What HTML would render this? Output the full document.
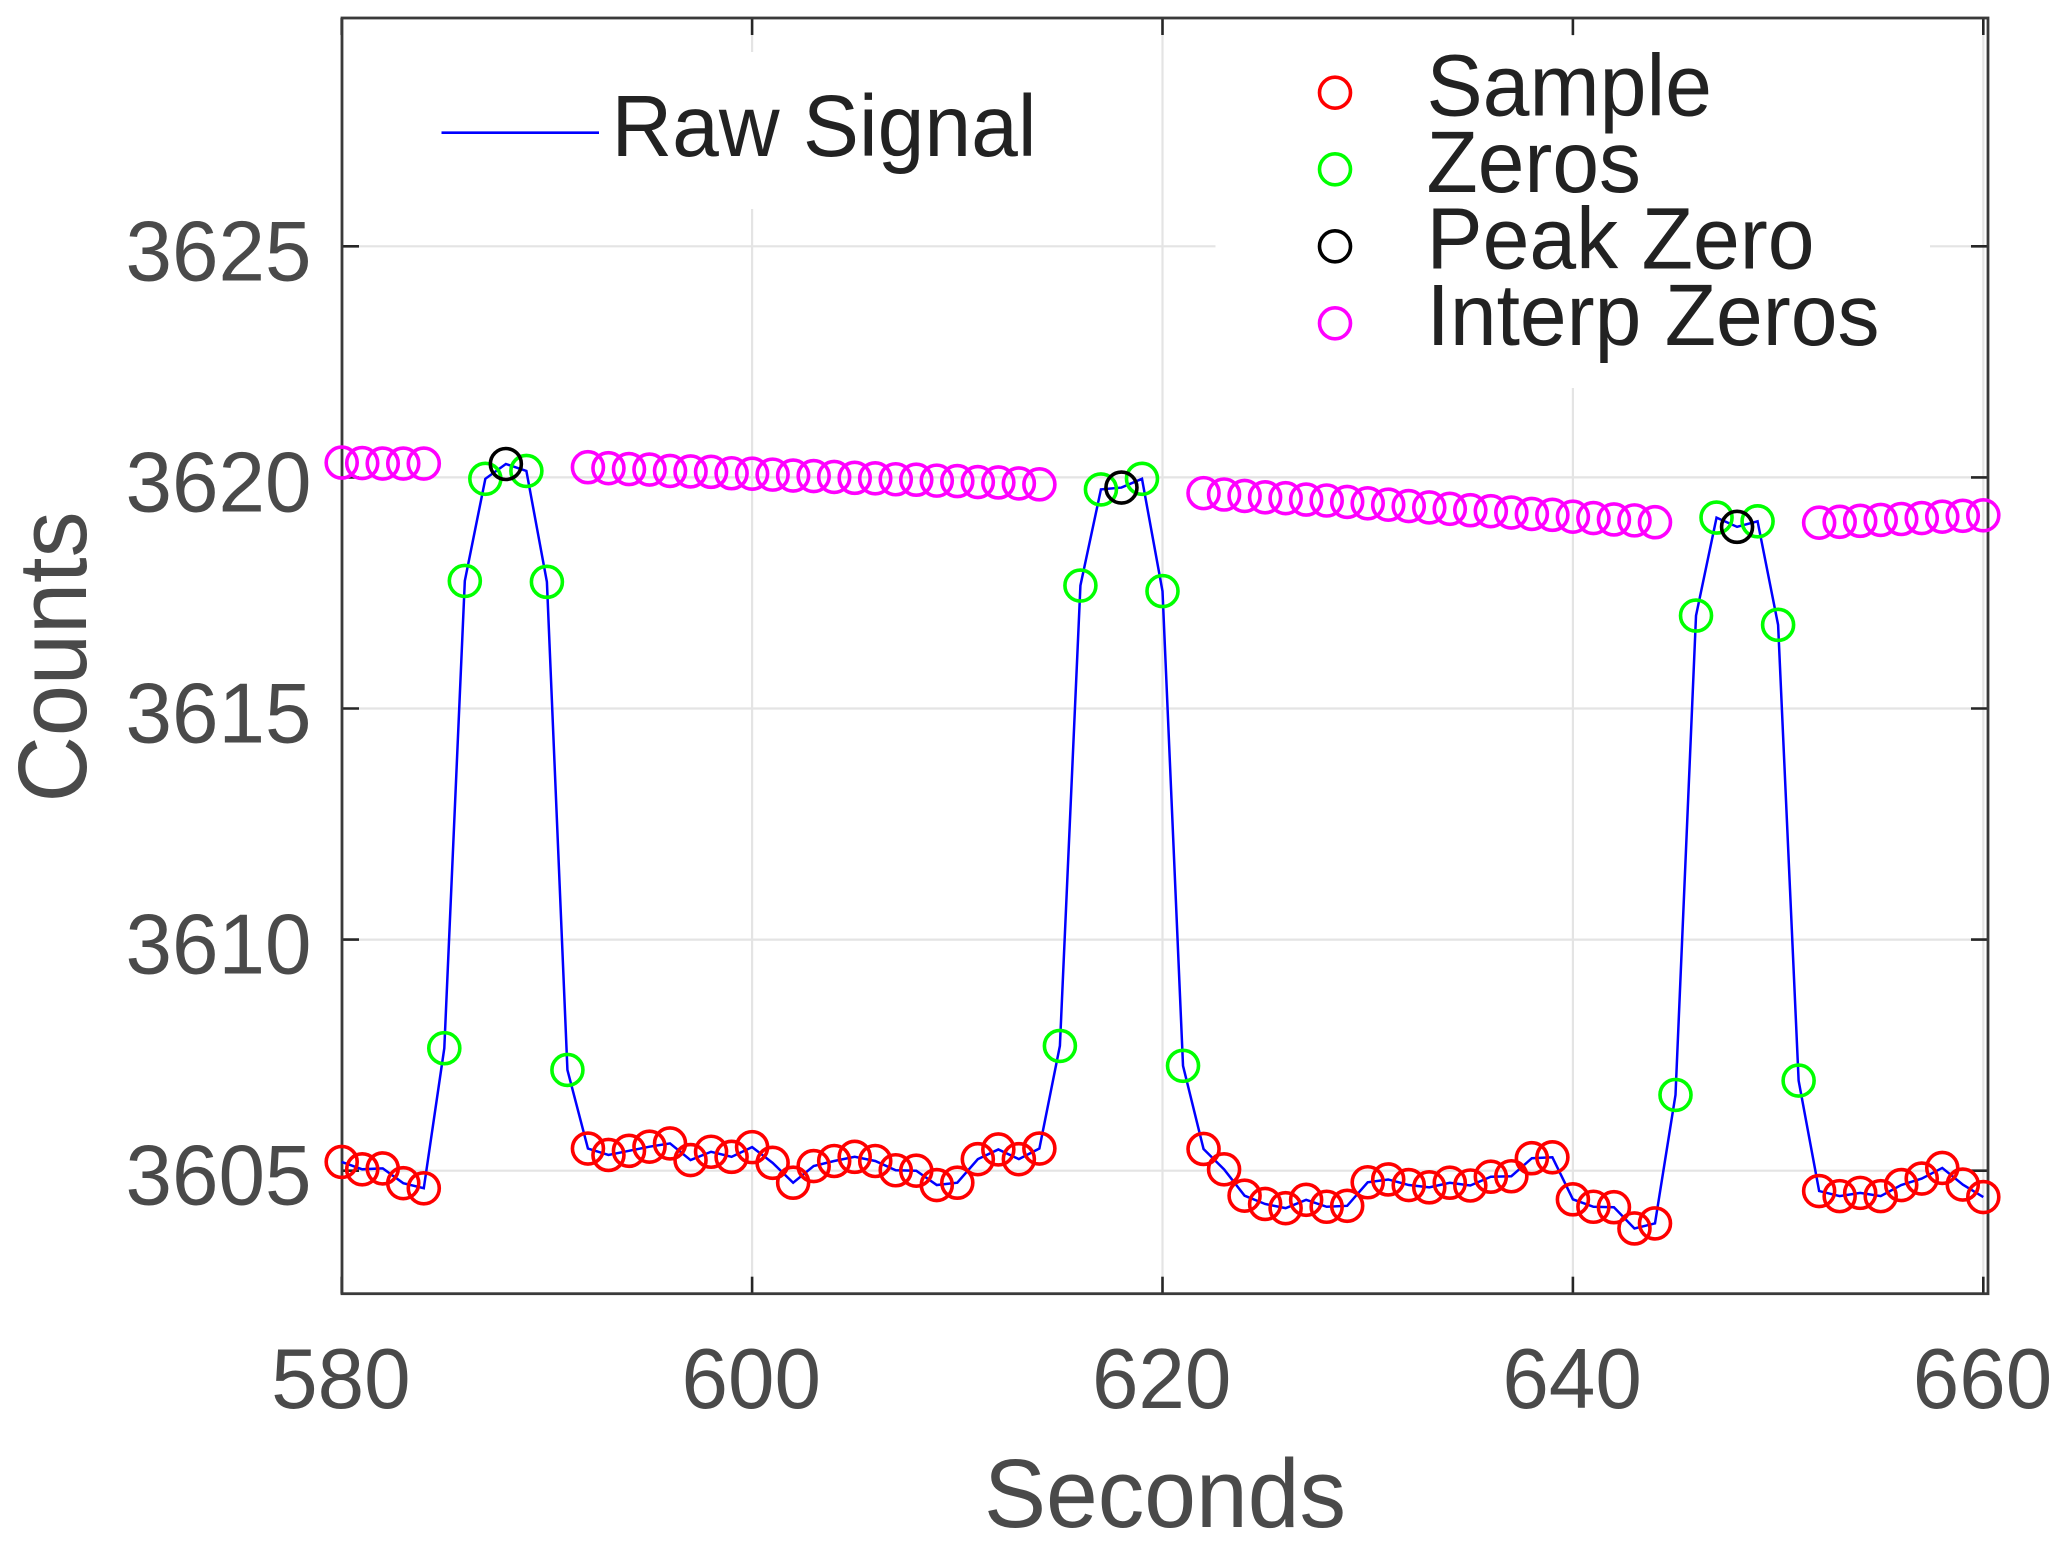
<!DOCTYPE html>
<html lang="en">
<head>
<meta charset="utf-8">
<title>Raw Signal Counts vs Seconds</title>
<style>
html,body{margin:0;padding:0;background:#fff;}
svg{display:block;font-family:"Liberation Sans",Arial,sans-serif;}
.tick-label{font-size:85px;fill:#4a4a4a;}
.axis-title{font-size:97px;fill:#4a4a4a;}
.legend-text{font-size:87px;fill:#222;}
</style>
</head>
<body>
<svg id="chart" xmlns="http://www.w3.org/2000/svg" width="2067" height="1546" viewBox="0 0 2067 1546">
  <rect x="0" y="0" width="2067" height="1546" fill="#fff"/>
  <g id="grid"></g>
  <rect x="420" y="52" width="650" height="157" fill="#fff"/>
  <rect x="1215.5" y="36" width="714.5" height="352" fill="#fff"/>
  <g id="ticks"></g>
  <rect x="342" y="18" width="1646" height="1275.7" fill="none" stroke="#3a3a3a" stroke-width="2.8"/>
  <g id="tick-labels"></g>
  <text class="axis-title" x="984" y="1527" textLength="362" lengthAdjust="spacingAndGlyphs">Seconds</text>
  <text class="axis-title" transform="translate(86,657) rotate(-90)" text-anchor="middle" textLength="291" lengthAdjust="spacingAndGlyphs">Counts</text>
  <g id="series"></g>
  <g>
    <line x1="441.5" y1="132.7" x2="599" y2="132.7" stroke="#0000ff" stroke-width="2.6"/>
    <text class="legend-text" x="611.5" y="156" textLength="425" lengthAdjust="spacingAndGlyphs">Raw Signal</text>
  </g>
  <g>
    <circle cx="1335" cy="92.7" r="15.5" fill="none" stroke="#ff0000" stroke-width="3.6"/>
    <text class="legend-text" x="1426.5" y="115.5" textLength="285.5" lengthAdjust="spacingAndGlyphs">Sample</text>
    <circle cx="1335" cy="169.3" r="15.5" fill="none" stroke="#00ff00" stroke-width="3.6"/>
    <text class="legend-text" x="1426.5" y="192" textLength="214.5" lengthAdjust="spacingAndGlyphs">Zeros</text>
    <circle cx="1335" cy="246.3" r="15.5" fill="none" stroke="#000000" stroke-width="3.6"/>
    <text class="legend-text" x="1426.5" y="268.5" textLength="388" lengthAdjust="spacingAndGlyphs">Peak Zero</text>
    <circle cx="1335" cy="323.3" r="15.5" fill="none" stroke="#ff00ff" stroke-width="3.6"/>
    <text class="legend-text" x="1426.5" y="345" textLength="453" lengthAdjust="spacingAndGlyphs">Interp Zeros</text>
  </g>
</svg>
<script>
const xTickValues = [580, 600, 620, 640, 660];
const yTickValues = [3605, 3610, 3615, 3620, 3625];

const rawSeconds = [
  580,581,582,583,584,585,586,587,588,589,
  590,591,592,593,594,595,596,597,598,599,
  600,601,602,603,604,605,606,607,608,609,
  610,611,612,613,614,615,616,617,618,619,
  620,621,622,623,624,625,626,627,628,629,
  630,631,632,633,634,635,636,637,638,639,
  640,641,642,643,644,645,646,647,648,649,
  650,651,652,653,654,655,656,657,658,659,660
];
const rawCounts = [
  3605.19,3605.03,3605.05,3604.73,3604.62,3607.65,3617.76,3619.97,3620.29,3620.14,
  3617.74,3607.18,3605.48,3605.34,3605.43,3605.52,3605.59,3605.23,3605.41,3605.30,
  3605.51,3605.17,3604.74,3605.10,3605.21,3605.30,3605.21,3605.01,3605.00,3604.69,
  3604.74,3605.25,3605.46,3605.25,3605.48,3607.70,3617.66,3619.74,3619.78,3619.97,
  3617.54,3607.27,3605.47,3605.03,3604.46,3604.28,3604.19,3604.37,3604.22,3604.24,
  3604.75,3604.81,3604.69,3604.64,3604.74,3604.68,3604.87,3604.88,3605.27,3605.29,
  3604.38,3604.22,3604.21,3603.75,3603.86,3606.64,3617.01,3619.13,3618.93,3619.05,
  3616.81,3606.95,3604.56,3604.45,3604.52,3604.45,3604.69,3604.83,3605.06,3604.70,3604.43
];

const sampleSeconds = [
  580,581,582,583,584,
  592,593,594,595,596,597,598,599,600,601,602,603,604,605,606,607,608,609,610,611,612,613,614,
  622,623,624,625,626,627,628,629,630,631,632,633,634,635,636,637,638,639,640,641,642,643,644,
  652,653,654,655,656,657,658,659,660
];
const zeroSeconds = [585,586,587,589,590,591,615,616,617,619,620,621,645,646,647,649,650,651];
const peakSeconds = [588,618,648];

const interpSeconds = [
  580,581,582,583,584,
  592,593,594,595,596,597,598,599,600,601,602,603,604,605,606,607,608,609,610,611,612,613,614,
  622,623,624,625,626,627,628,629,630,631,632,633,634,635,636,637,638,639,640,641,642,643,644,
  652,653,654,655,656,657,658,659,660
];
const interpCounts = [
  3620.32,3620.31,3620.30,3620.30,3620.30,
  3620.22,3620.20,3620.18,3620.17,3620.14,3620.13,3620.12,3620.09,3620.08,3620.06,3620.04,3620.03,
  3620.01,3619.99,3619.98,3619.96,3619.95,3619.93,3619.92,3619.90,3619.89,3619.87,3619.85,
  3619.66,3619.63,3619.60,3619.57,3619.55,3619.52,3619.50,3619.47,3619.44,3619.41,3619.38,3619.35,
  3619.32,3619.29,3619.27,3619.24,3619.21,3619.19,3619.15,3619.12,3619.09,3619.07,3619.03,
  3619.02,3619.04,3619.06,3619.08,3619.10,3619.12,3619.15,3619.17,3619.18
];

const SVG_NS = 'http://www.w3.org/2000/svg';
const FRAME = { left: 342, right: 1988, top: 18, bottom: 1293.7 };
const DIGIT_WIDTH = 46.5;

function xScale(v) { return 341.7 + (v - 580) * 20.52; }
function yScale(v) { return 1170.7 - (v - 3605) * 46.22; }
function rawAt(sec) { return rawCounts[rawSeconds.indexOf(sec)]; }

function make(tag, attrs, parent) {
  const el = document.createElementNS(SVG_NS, tag);
  Object.keys(attrs).forEach(function (k) { el.setAttribute(k, attrs[k]); });
  parent.appendChild(el);
  return el;
}

const gridGroup = document.getElementById('grid');
const tickGroup = document.getElementById('ticks');
const labelGroup = document.getElementById('tick-labels');
const seriesGroup = document.getElementById('series');

xTickValues.forEach(function (v) {
  const x = xScale(v);
  const g = make('line', { x1: x, x2: x, y1: FRAME.top, y2: FRAME.bottom, stroke: '#e4e4e4', 'stroke-width': 2.2 }, gridGroup);
  
  
  const t1 = make('line', { x1: x, x2: x, y1: FRAME.bottom, y2: FRAME.bottom - 17, stroke: '#262626', 'stroke-width': 2.6 }, tickGroup);
  
  
  const t2 = make('line', { x1: x, x2: x, y1: FRAME.top, y2: FRAME.top + 17, stroke: '#262626', 'stroke-width': 2.6 }, tickGroup);
  
  
  const text = String(v);
  const lab = make('text', { class: 'tick-label', x: x - 0.8, y: 1408, 'text-anchor': 'middle', textLength: text.length * DIGIT_WIDTH, lengthAdjust: 'spacingAndGlyphs' }, labelGroup);
  
  
  lab.textContent = text;
});

yTickValues.forEach(function (v) {
  const y = yScale(v);
  const g = make('line', { x1: FRAME.left, x2: FRAME.right, y1: y, y2: y, stroke: '#e4e4e4', 'stroke-width': 2.2 }, gridGroup);
  
  
  const t1 = make('line', { x1: FRAME.left, x2: FRAME.left + 17, y1: y, y2: y, stroke: '#262626', 'stroke-width': 2.6 }, tickGroup);
  
  
  const t2 = make('line', { x1: FRAME.right - 17, x2: FRAME.right, y1: y, y2: y, stroke: '#262626', 'stroke-width': 2.6 }, tickGroup);
  
  
  const text = String(v);
  const lab = make('text', { class: 'tick-label', x: 311.5, y: y + 34, 'text-anchor': 'end', textLength: text.length * DIGIT_WIDTH, lengthAdjust: 'spacingAndGlyphs' }, labelGroup);
  
  
  lab.textContent = text;
});

const rawPoints = rawSeconds.map(function (s, i) {
  return xScale(s).toFixed(2) + ',' + yScale(rawCounts[i]).toFixed(2);
}).join(' ');
const rawLine = make('polyline', { points: rawPoints, fill: 'none', stroke: '#0000ff', 'stroke-width': 2.5, 'stroke-linejoin': 'miter' }, seriesGroup);



function marker(sec, count, color) {
  return make('circle', { cx: xScale(sec), cy: yScale(count), r: 15.5, fill: 'none', stroke: color, 'stroke-width': 3.6 }, seriesGroup);
}

sampleSeconds.forEach(function (s) {
  const m = marker(s, rawAt(s), '#ff0000');
  
  
});
zeroSeconds.forEach(function (s) {
  const m = marker(s, rawAt(s), '#00ff00');
  
  
});
peakSeconds.forEach(function (s) {
  const m = marker(s, rawAt(s), '#000000');
  
  
});
interpSeconds.forEach(function (s, i) {
  const m = marker(s, interpCounts[i], '#ff00ff');
  
  
});
</script>
</body>
</html>
